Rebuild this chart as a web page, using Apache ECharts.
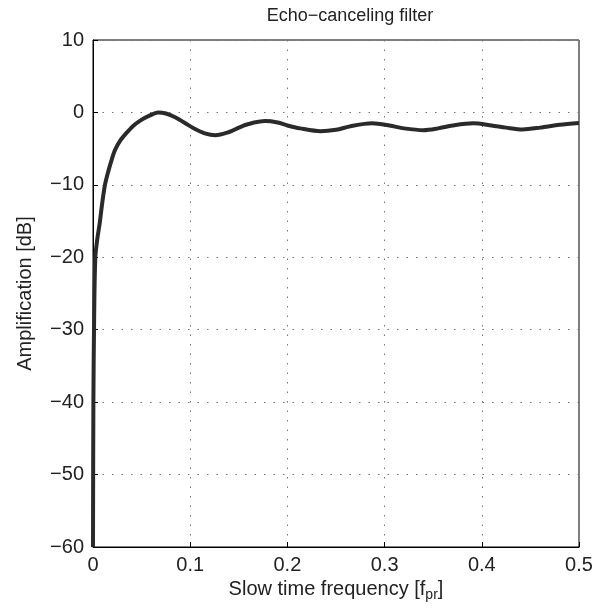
<!DOCTYPE html>
<html>
<head>
<meta charset="utf-8">
<script src="https://cdn.jsdelivr.net/npm/echarts@6/dist/echarts.min.js"></script>
<style>html,body{margin:0;padding:0;background:#fff}#c{width:604px;height:612px}</style>
</head>
<body>
<div id="c"></div>
<script>
const freq = [0, 0.0004, 0.0012, 0.0024, 0.0045, 0.0069, 0.0095, 0.0123, 0.016, 0.0195, 0.0226, 0.028, 0.034, 0.041, 0.049, 0.058, 0.067, 0.075, 0.085, 0.095, 0.105, 0.115, 0.126, 0.14, 0.15, 0.16, 0.177, 0.19, 0.2, 0.213, 0.234, 0.25, 0.265, 0.287, 0.305, 0.32, 0.34, 0.355, 0.37, 0.391, 0.41, 0.425, 0.442, 0.46, 0.48, 0.5];
const amplificationDb = [-60, -40, -28, -20, -17.4, -15.3, -12.5, -10, -8, -6.4, -5.2, -3.9, -2.9, -1.9, -1.1, -0.45, 0, -0.15, -0.7, -1.5, -2.3, -2.9, -3.15, -2.7, -2.1, -1.6, -1.2, -1.4, -1.8, -2.2, -2.6, -2.4, -1.9, -1.5, -1.8, -2.2, -2.45, -2.2, -1.8, -1.5, -1.8, -2.1, -2.35, -2.1, -1.7, -1.45];
const xTicks = [0, 0.1, 0.2, 0.3, 0.4, 0.5];
const yTicks = [-60, -50, -40, -30, -20, -10, 0, 10];

const chart = echarts.init(document.getElementById('c'), null, {renderer: 'canvas'});
const fnt = 'Liberation Sans, Arial, sans-serif';
const fmtNum = v => (v < 0 ? '\u2212' + Math.abs(v) : String(v));
chart.setOption({
  animation: false,
  title: {
    text: 'Echo\u2212canceling filter',
    left: 345, top: 2, textAlign: 'center',
    textStyle: {fontFamily: fnt, fontSize: 18, fontWeight: 'normal', color: '#222'}
  },
  grid: {left: 93, right: 25, top: 40, bottom: 65, show: true, borderColor: '#000', borderWidth: 1, backgroundColor: '#fff'},
  xAxis: {
    type: 'value', min: xTicks[0], max: xTicks[xTicks.length - 1], interval: 0.1,
    name: '{a|Slow time frequency [f}{s|pr}{a|]}',
    nameLocation: 'middle', nameGap: 30,
    nameTextStyle: {rich: {
      a: {fontFamily: fnt, fontSize: 20, color: '#222'},
      s: {fontFamily: fnt, fontSize: 14, color: '#222', padding: [11, 0, 0, 0]}
    }},
    axisLine: {show: true, onZero: false, lineStyle: {color: '#000', width: 1}},
    axisTick: {show: true, inside: true, length: 5, lineStyle: {color: '#000'}},
    axisLabel: {fontFamily: fnt, fontSize: 20, color: '#222', margin: 8, formatter: v => String(v)},
    splitLine: {show: true, lineStyle: {color: '#777', type: [1.5, 8], width: 1}}
  },
  yAxis: {
    type: 'value', min: yTicks[0], max: yTicks[yTicks.length - 1], interval: 10,
    name: 'Amplification [dB]', nameLocation: 'middle', nameGap: 58,
    nameTextStyle: {fontFamily: fnt, fontSize: 20, color: '#222'},
    axisLine: {show: true, onZero: false, lineStyle: {color: '#000', width: 1}},
    axisTick: {show: true, inside: true, length: 5, lineStyle: {color: '#000'}},
    axisLabel: {fontFamily: fnt, fontSize: 20, color: '#222', margin: 9, formatter: fmtNum},
    splitLine: {show: true, lineStyle: {color: '#777', type: [1.5, 8], width: 1}}
  },
  series: [{
    type: 'line',
    data: freq.map((f, i) => [f, amplificationDb[i]]),
    showSymbol: false,
    smooth: 0.3,
    lineStyle: {color: '#2a2a2a', width: 4},
    clip: true
  }]
});
</script>
</body>
</html>
